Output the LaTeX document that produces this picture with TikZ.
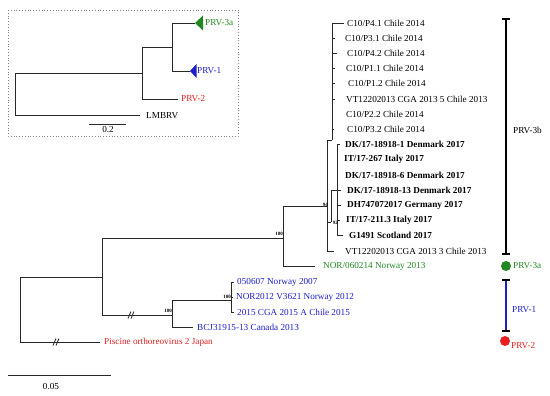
\documentclass[tikz,border=0pt]{standalone}
\usepackage{fontspec}
\setmainfont{Liberation Serif}
\usetikzlibrary{arrows.meta}
\definecolor{prvgreen}{RGB}{34,135,34}
\definecolor{prvblue}{RGB}{30,30,205}
\definecolor{prvred}{RGB}{232,32,32}
\definecolor{treegray}{RGB}{40,40,40}

\begin{document}
\begin{tikzpicture}[x=1pt, y=-1pt,
  every node/.style={inner sep=0pt, font=\fontsize{9.2}{11}\selectfont},
  branch/.style={draw=treegray, line width=0.8pt},
  tiplabel/.style={anchor=west},
  boldtip/.style={anchor=west, font=\fontsize{9.2}{11}\selectfont\bfseries},
  boot/.style={anchor=east, font=\fontsize{5}{6}\selectfont\bfseries},
  bracket/.style={line width=1.6pt, {Bar[width=8pt]}-{Bar[width=8pt]}},
  dot/.style={circle, minimum size=10pt}]
  \useasboundingbox (0,0) rectangle (550,396);

  % Inset tree
  \draw[gray, dotted, line width=0.8pt] (8,10) rectangle (238,136);
  \coordinate (iroot) at (15,94);
  \coordinate (ia) at (142,73);
  \coordinate (ib) at (172,47);
  \coordinate (i3a) at (195,23);
  \coordinate (i1) at (190,71);
  \coordinate (i2) at (178,99);
  \coordinate (ilm) at (140,115);
  \draw[branch] (iroot) |- (ia);
  \draw[branch] (iroot) |- (ilm);
  \draw[branch] (ia) |- (ib);
  \draw[branch] (ia) |- (i2);
  \draw[branch] (ib) |- (i3a);
  \draw[branch] (ib) |- (i1);
  \fill[prvgreen] (i3a) -- ++(8,-7.5) -- ++(0,15) -- cycle;
  \fill[prvblue] (i1) -- ++(6.5,-7) -- ++(0,14) -- cycle;
  \node[tiplabel, text=prvgreen] (li3a) at (205,23) {PRV-3a};
  \node[tiplabel, text=prvblue] (li1) at (197,71) {PRV-1};
  \node[tiplabel, text=prvred] (li2) at (181,99) {PRV-2};
  \node[tiplabel] (lilm) at (146,116) {LMBRV};
  \coordinate (isl) at (89,124);
  \coordinate (isr) at (126,124);
  \draw[branch] (isl) -- (isr);
  \node (ist) at (108,130) {0.2};

  % Internal nodes
  \coordinate (root) at (20,310);
  \coordinate (up) at (102,277);
  \coordinate (n3) at (283,238);
  \coordinate (n94) at (327,206);
  \coordinate (nchile) at (332,140);
  \coordinate (n92) at (331,222);
  \coordinate (ndk) at (337,190);
  \coordinate (n1) at (172,315);
  \coordinate (n1b) at (231,300);

  % Tips
  \coordinate (t0) at (344,23);
  \coordinate (t1) at (334.5,38.2);
  \coordinate (t2) at (337,53.4);
  \coordinate (t3) at (334.5,68.6);
  \coordinate (t4) at (334.5,83.8);
  \coordinate (t5) at (334.5,99);
  \coordinate (t6) at (332.5,114.2);
  \coordinate (t7) at (333.5,129.4);
  \coordinate (t8) at (339.5,144.6);
  \coordinate (t9) at (338,159.8);
  \coordinate (t10) at (338,175);
  \coordinate (t11) at (341,190.2);
  \coordinate (t12) at (341,205.4);
  \coordinate (t13) at (340,220.6);
  \coordinate (t14) at (343,235.8);
  \coordinate (t15) at (334,251);
  \coordinate (tnor) at (315,266.5);
  \coordinate (tn07) at (234,282);
  \coordinate (tn12) at (233,297);
  \coordinate (tc15) at (234,312);
  \coordinate (tbcj) at (193,327);
  \coordinate (tpis) at (100,342);

  % Edges
  \draw[branch] (root) |- (up);
  \draw[branch] (root) |- (tpis);
  \draw[branch] (up) |- (n3);
  \draw[branch] (up) |- (n1);
  \draw[branch] (n3) |- (n94);
  \draw[branch] (n3) |- (tnor);
  \draw[branch] (n94) |- (nchile);
  \draw[branch] (n94) |- (n92);
  \draw[branch] (n94) |- (t15);
  \draw[branch] (n92) |- (ndk);
  \draw[branch] (nchile) |- (t0);
  \draw[branch] (nchile) |- (t1);
  \draw[branch] (nchile) |- (t2);
  \draw[branch] (nchile) |- (t3);
  \draw[branch] (nchile) |- (t4);
  \draw[branch] (nchile) |- (t5);
  \draw[branch] (nchile) |- (t6);
  \draw[branch] (nchile) |- (t7);
  \draw[branch] (ndk) |- (t8);
  \draw[branch] (ndk) |- (t9);
  \draw[branch] (ndk) |- (t10);
  \draw[branch] (ndk) |- (t11);
  \draw[branch] (ndk) |- (t12);
  \draw[branch] (ndk) |- (t13);
  \draw[branch] (ndk) |- (t14);
  \draw[branch] (n1) |- (n1b);
  \draw[branch] (n1) |- (tbcj);
  \draw[branch] (n1b) |- (tn07);
  \draw[branch] (n1b) |- (tn12);
  \draw[branch] (n1b) |- (tc15);

  % Branch breaks
  \coordinate (brk1) at (57,342);
  \coordinate (brk2) at (132,315);
  \draw[branch] ([xshift=-4pt,yshift=-3.5pt]brk1) -- ([xshift=-1pt,yshift=3.5pt]brk1);
  \draw[branch] ([xshift=-1pt,yshift=-3.5pt]brk1) -- ([xshift=2pt,yshift=3.5pt]brk1);
  \draw[branch] ([xshift=-4pt,yshift=-3.5pt]brk2) -- ([xshift=-1pt,yshift=3.5pt]brk2);
  \draw[branch] ([xshift=-1pt,yshift=-3.5pt]brk2) -- ([xshift=2pt,yshift=3.5pt]brk2);

  % Bootstrap values
  \node[boot] (b100a) at (283,234) {100};
  \node[boot] (b94) at (328,205) {94};
  \node[boot] (b92) at (338,223) {92};
  \node[boot] (b100b) at (231,297) {100};
  \node[boot] (b100c) at (172,311) {100};

  % Tip labels
  \node[tiplabel] (l0) at (347,23) {C10/P4.1 Chile 2014};
  \node[tiplabel] (l1) at (345,38.2) {C10/P3.1 Chile 2014};
  \node[tiplabel] (l2) at (347,53.4) {C10/P4.2 Chile 2014};
  \node[tiplabel] (l3) at (346,68.6) {C10/P1.1 Chile 2014};
  \node[tiplabel] (l4) at (348,83.8) {C10/P1.2 Chile 2014};
  \node[tiplabel] (l5) at (346,99) {VT12202013 CGA 2013 5 Chile 2013};
  \node[tiplabel] (l6) at (346,114.2) {C10/P2.2 Chile 2014};
  \node[tiplabel] (l7) at (347,129.4) {C10/P3.2 Chile 2014};
  \node[boldtip] (l8) at (345,144.6) {DK/17-18918-1 Denmark 2017};
  \node[boldtip] (l9) at (344,159.8) {IT/17-267 Italy 2017};
  \node[boldtip] (l10) at (345,175) {DK/17-18918-6 Denmark 2017};
  \node[boldtip] (l11) at (347,190.2) {DK/17-18918-13 Denmark 2017};
  \node[boldtip] (l12) at (347,205.4) {DH747072017 Germany 2017};
  \node[boldtip] (l13) at (346,220.6) {IT/17-211.3 Italy 2017};
  \node[boldtip] (l14) at (349,235.8) {G1491 Scotland 2017};
  \node[tiplabel] (l15) at (345,251) {VT12202013 CGA 2013 3 Chile 2013};
  \node[tiplabel, text=prvgreen] (lnor) at (323,266.5) {NOR/060214 Norway 2013};
  \node[tiplabel, text=prvblue] (ln07) at (237,282) {050607 Norway 2007};
  \node[tiplabel, text=prvblue] (ln12) at (236,297) {NOR2012 V3621 Norway 2012};
  \node[tiplabel, text=prvblue] (lc15) at (237,312) {2015 CGA 2015 A Chile 2015};
  \node[tiplabel, text=prvblue] (lbcj) at (197,327) {BCJ31915-13 Canada 2013};
  \node[tiplabel, text=prvred] (lpis) at (104,342) {Piscine orthoreovirus 2 Japan};

  % Genotype brackets
  \coordinate (g3btop) at (506,18);
  \coordinate (g3bbot) at (506,255);
  \coordinate (g1top) at (506,279);
  \coordinate (g1bot) at (506,332);
  \draw[bracket] (g3btop) -- (g3bbot);
  \draw[bracket, prvblue, {Bar[width=8pt,black]}-{Bar[width=8pt,black]}] (g1top) -- (g1bot);
  \node[dot, fill=prvgreen] (d3a) at (506,266) {};
  \node[dot, fill=prvred] (d2) at (505,341) {};
  \node[tiplabel] (g3b) at (513,130) {PRV-3b};
  \node[tiplabel, text=prvgreen] (g3a) at (513,266) {PRV-3a};
  \node[tiplabel, text=prvblue] (g1) at (512,310) {PRV-1};
  \node[tiplabel, text=prvred] (g2) at (511,346) {PRV-2};

  % Scale bar
  \coordinate (sbl) at (8,375);
  \coordinate (sbr) at (111,375);
  \draw[branch] (sbl) -- (sbr);
  \node (sbt) at (51,387) {0.05};
\end{tikzpicture}
\end{document}
